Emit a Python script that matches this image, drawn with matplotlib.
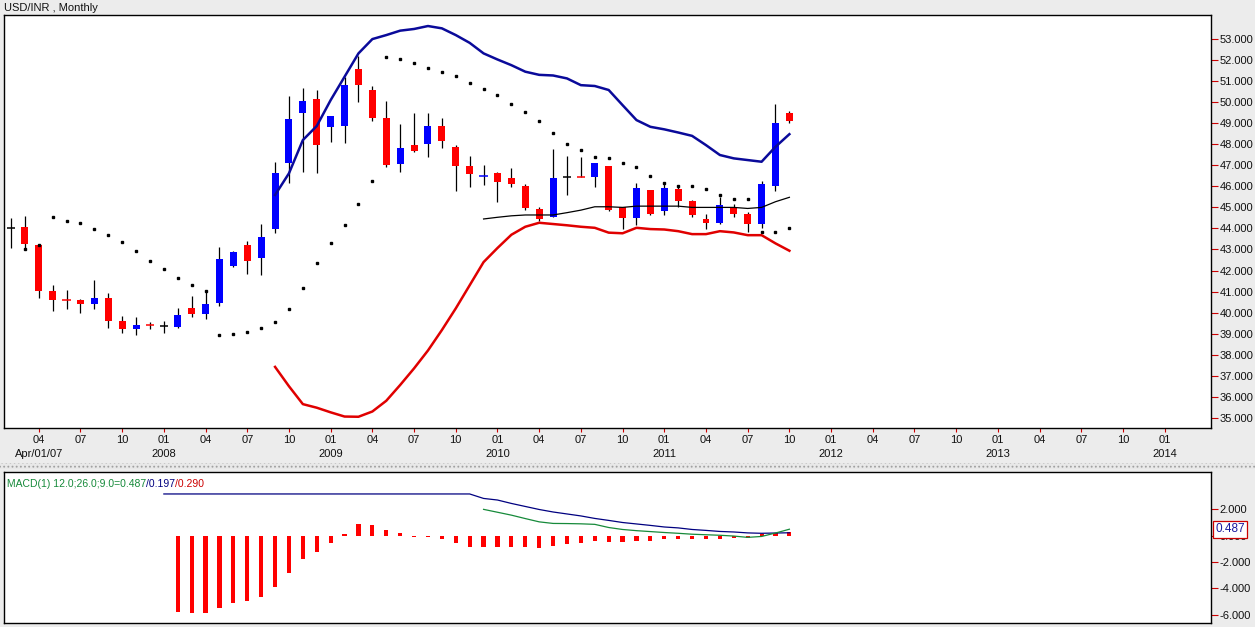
import matplotlib
matplotlib.use("Agg")
import matplotlib.pyplot as plt
from matplotlib.patches import Rectangle

plt.rcParams['font.family'] = ['Liberation Sans', 'DejaVu Sans']

# month index 0 = Feb 2007
opens = [44.0, 44.05, 43.21, 41.02, 40.62, 40.6, 40.42, 40.68, 39.6, 39.23,
         39.40, 39.36, 39.33, 40.22, 39.95, 40.47, 42.22, 43.21, 42.61, 43.97,
         47.09, 49.5, 50.15, 48.83, 48.88, 51.57, 50.58, 49.26, 47.07, 47.96,
         47.99, 48.86, 47.85, 46.96, 46.47, 46.65, 46.39, 46.01, 44.92, 44.56,
         46.46, 46.48, 46.46, 46.96, 45.0, 44.48, 45.82, 44.84, 45.86, 45.32,
         44.45, 44.27, 45.0, 44.68, 44.21, 46.01, 49.5]
highs = [44.5, 44.6, 43.25, 41.31, 41.07, 40.65, 41.55, 40.91, 39.83, 39.77,
         39.53, 39.61, 40.2, 40.79, 41.07, 43.1, 42.95, 43.4, 44.2, 47.14,
         50.29, 50.66, 50.58, 49.36, 51.18, 52.19, 50.77, 50.07, 48.96, 49.47,
         49.47, 49.23, 47.96, 47.44, 47.01, 46.7, 46.85, 46.11, 45.02, 47.76,
         47.44, 47.41, 47.12, 46.96, 45.0, 46.14, 45.82, 46.19, 46.0, 45.37,
         44.71, 45.48, 45.16, 44.79, 46.27, 49.91, 49.6]
lows = [43.05, 43.0, 40.7, 40.09, 40.15, 39.96, 40.15, 39.28, 39.04, 38.95,
        39.22, 39.01, 39.25, 39.77, 39.68, 40.31, 42.18, 41.83, 41.78, 43.8,
        46.14, 46.69, 46.62, 48.12, 48.07, 50.02, 49.12, 46.93, 46.69, 47.64,
        47.41, 47.8, 45.79, 45.95, 46.06, 45.27, 45.95, 44.87, 44.37, 44.54,
        45.59, 46.43, 45.95, 44.85, 43.97, 44.16, 44.63, 44.63, 45.0, 44.53,
        43.97, 44.2, 44.53, 43.81, 44.0, 45.79, 49.0]
closes = [44.0, 43.24, 41.04, 40.61, 40.58, 40.42, 40.68, 39.61, 39.23, 39.39,
          39.38, 39.36, 39.88, 39.95, 40.42, 42.54, 42.89, 42.46, 43.59, 46.65,
          49.2, 50.05, 47.98, 49.34, 50.81, 50.83, 49.26, 47.03, 47.82, 47.69,
          48.86, 48.17, 46.98, 46.58, 46.51, 46.22, 46.11, 44.95, 44.43, 46.38,
          46.46, 46.44, 47.12, 44.9, 44.48, 45.9, 44.71, 45.9, 45.32, 44.64,
          44.27, 45.11, 44.71, 44.21, 46.11, 49.02, 49.12]

# parabolic SAR, from month 1
sar = [43.0, 43.2, 44.55, 44.36, 44.24, 43.95, 43.7, 43.37, 42.94, 42.46,
       42.05, 41.65, 41.31, 41.04, 38.93, 38.98, 39.09, 39.28, 39.56, 40.18,
       41.18, 42.34, 43.32, 44.16, 45.17, 46.27, 52.16, 52.05, 51.87, 51.64,
       51.45, 51.24, 50.92, 50.62, 50.34, 49.91, 49.55, 49.12, 48.52, 47.99,
       47.72, 47.41, 47.36, 47.09, 46.93, 46.5, 46.17, 46.01, 46.01, 45.87,
       45.59, 45.4, 45.4, 43.84, 43.84, 44.03]

# bands, from month 19
upper = [45.59, 46.62, 48.2, 48.87, 50.1, 51.21, 52.32, 53.0, 53.19, 53.4,
         53.48, 53.62, 53.51, 53.19, 52.82, 52.32, 52.03, 51.76, 51.45, 51.3,
         51.27, 51.13, 50.81, 50.77, 50.58, 49.86, 49.15, 48.83, 48.71, 48.56,
         48.4, 47.96, 47.49, 47.33, 47.25, 47.17, 47.88, 48.48]
lower = [37.42, 36.5, 35.65, 35.48, 35.26, 35.06, 35.05, 35.3, 35.81, 36.56,
         37.35, 38.2, 39.17, 40.2, 41.3, 42.4, 43.07, 43.7, 44.08, 44.27,
         44.21, 44.15, 44.08, 44.03, 43.8, 43.77, 44.03, 43.97, 43.95, 43.87,
         43.73, 43.73, 43.87, 43.81, 43.68, 43.68, 43.29, 42.94]
# middle line, from month 34
middle = [44.45, 44.53, 44.6, 44.64, 44.64, 44.64, 44.75, 44.87, 45.03, 45.03,
          45.0, 45.06, 45.06, 45.06, 45.06, 45.0, 45.0, 45.0, 45.0, 44.95,
          45.0, 45.27, 45.48]

# MACD histogram, from month 12
macd_hist = [-5.78, -5.85, -5.85, -5.52, -5.14, -4.94, -4.64, -3.88, -2.81, -1.77,
             -1.22, -0.53, 0.15, 0.89, 0.81, 0.43, 0.2, -0.07, -0.12, -0.22,
             -0.53, -0.89, -0.89, -0.89, -0.89, -0.89, -0.96, -0.8, -0.62, -0.55,
             -0.4, -0.45, -0.45, -0.4, -0.4, -0.28, -0.28, -0.28, -0.28, -0.23,
             -0.2, -0.2, 0.15, 0.2, 0.29]
# signal (blue), from month 11
macd_signal = [3.17, 3.17, 3.17, 3.17, 3.17, 3.17, 3.17, 3.17, 3.17, 3.17,
               3.17, 3.17, 3.17, 3.17, 3.17, 3.17, 3.17, 3.17, 3.17, 3.17,
               3.17, 3.17, 3.17, 2.83, 2.71, 2.45, 2.22, 1.99, 1.80, 1.65,
               1.50, 1.31, 1.16, 1.00, 0.89, 0.78, 0.66, 0.59, 0.47, 0.40,
               0.32, 0.28, 0.21, 0.18, 0.2, 0.22]
# MACD (green), from month 34
macd_line = [2.0, 1.78, 1.56, 1.30, 1.05, 0.93, 0.92, 0.90, 0.86, 0.62,
             0.47, 0.38, 0.31, 0.24, 0.18, 0.11, 0.07, 0.03, -0.03, -0.13,
             -0.06, 0.2, 0.49]

BG = "#ececec"
TICKC = "#cc0000"

fig = plt.figure(figsize=(12.55, 6.27), dpi=100, facecolor=BG)
W, H = 1255.0, 627.0
ax = fig.add_axes([4 / W, 199.3 / H, 1207 / W, 412.4 / H])
ax2 = fig.add_axes([4 / W, 4 / H, 1207 / W, 151 / H])

xmin, xmax = -0.5, 86.33

# candles
for i in range(len(opens)):
  o, h, l, c = opens[i], highs[i], lows[i], closes[i]
  if c > o:
    col = "#0000ff"
  elif c < o:
    col = "#ff0000"
  else:
    col = "black"
  ax.vlines(i, l, h, color="black", lw=0.9, zorder=2)
  if abs(c - o) < 0.06:
    ax.hlines((o + c) / 2, i - 0.3, i + 0.3, color=col, lw=1.1, zorder=3)
  else:
    ax.bar(i, abs(c - o), bottom=min(o, c), width=0.5, color=col, lw=0, zorder=3)

ax.plot(range(1, 1 + len(sar)), sar, ls="none", marker="s", ms=1.6, color="black", zorder=4)
ax.plot(range(19, 19 + len(upper)), upper, color="#0a0a9a", lw=1.8, zorder=4)
ax.plot(range(19, 19 + len(lower)), lower, color="#e00000", lw=1.8, zorder=4)
ax.plot(range(34, 34 + len(middle)), middle, color="black", lw=0.9, zorder=4)

ax.set_xlim(xmin, xmax)
ax.set_ylim(34.53, 54.13)

# x ticks every quarter
ticks = []
labels = []
for i in range(2, 84, 3):
  m = (i + 1) % 12 + 1
  lab = "%02d" % m
  if i == 2:
    lab += "\nApr/01/07"
  elif m == 1:
    lab += "\n%d" % (2007 + (i + 1) // 12)
  ticks.append(i)
  labels.append(lab)
ax.set_xticks(ticks)
ax.set_xticklabels(labels, fontsize=8, linespacing=1.55)
ax.tick_params(axis="x", colors=TICKC, labelcolor="#111111", length=3, width=0.8, pad=2)

ax.yaxis.tick_right()
ax.set_yticks(range(35, 54))
ax.set_yticklabels(["%.3f" % v for v in range(35, 54)], fontsize=8)
ax.tick_params(axis="y", colors=TICKC, labelcolor="#111111", length=5, width=0.8, pad=1)

# MACD panel
ax2.bar(range(12, 12 + len(macd_hist)), macd_hist, width=0.3, color="#ff0000", lw=0, zorder=2)
ax2.plot(range(11, 11 + len(macd_signal)), macd_signal, color="#000080", lw=0.9, zorder=3)
ax2.plot(range(34, 34 + len(macd_line)), macd_line, color="#168a3a", lw=0.9, zorder=3)
ax2.set_xlim(xmin, xmax)
ax2.set_ylim(-6.64, 4.84)
ax2.set_xticks([])
ax2.yaxis.tick_right()
yt = [2, 0, -2, -4, -6]
ax2.set_yticks(yt)
ax2.set_yticklabels(["%.3f" % v for v in yt], fontsize=8)
ax2.tick_params(axis="y", colors=TICKC, labelcolor="#111111", length=5, width=0.8, pad=1)

for a in (ax, ax2):
  a.set_facecolor("white")
  for s in a.spines.values():
    s.set_color("black")
    s.set_linewidth(1.0)

# value box on the right axis
ax2.annotate("0.487", xy=(1.0, macd_line[-1]), xycoords=("axes fraction", "data"),
             xytext=(3, 0), textcoords="offset points", fontsize=8.5, color="#1a1aa0",
             va="center", ha="left",
             bbox=dict(boxstyle="square,pad=0.2", fc="white", ec="#cc0000", lw=0.9))

# MACD caption
t1 = ax2.text(0.0, 0.955, " MACD(1) 12.0;26.0;9.0=0.487", transform=ax2.transAxes,
              fontsize=7.5, color="#168a3a", va="top", ha="left")
t2 = ax2.annotate("/0.197", xy=(1, 0), xycoords=t1, fontsize=7.5, color="#000080",
                  va="bottom", ha="left")
ax2.annotate("/0.290", xy=(1, 0), xycoords=t2, fontsize=7.5, color="#cc0000",
             va="bottom", ha="left")

# title and panel separator
fig.text(4 / W, 1 - 8 / H, "USD/INR , Monthly", fontsize=8, color="#111111", va="center", ha="left")
plt.rcParams['hatch.linewidth'] = 0.8
fig.patches.append(Rectangle((0, 1 - 469 / H), 1, 6 / H, transform=fig.transFigure,
                             fc="#e8e8e8", ec="#a0a0a0", lw=0, hatch="....", zorder=0))

fig.savefig("out.png", dpi=100, facecolor=BG)
